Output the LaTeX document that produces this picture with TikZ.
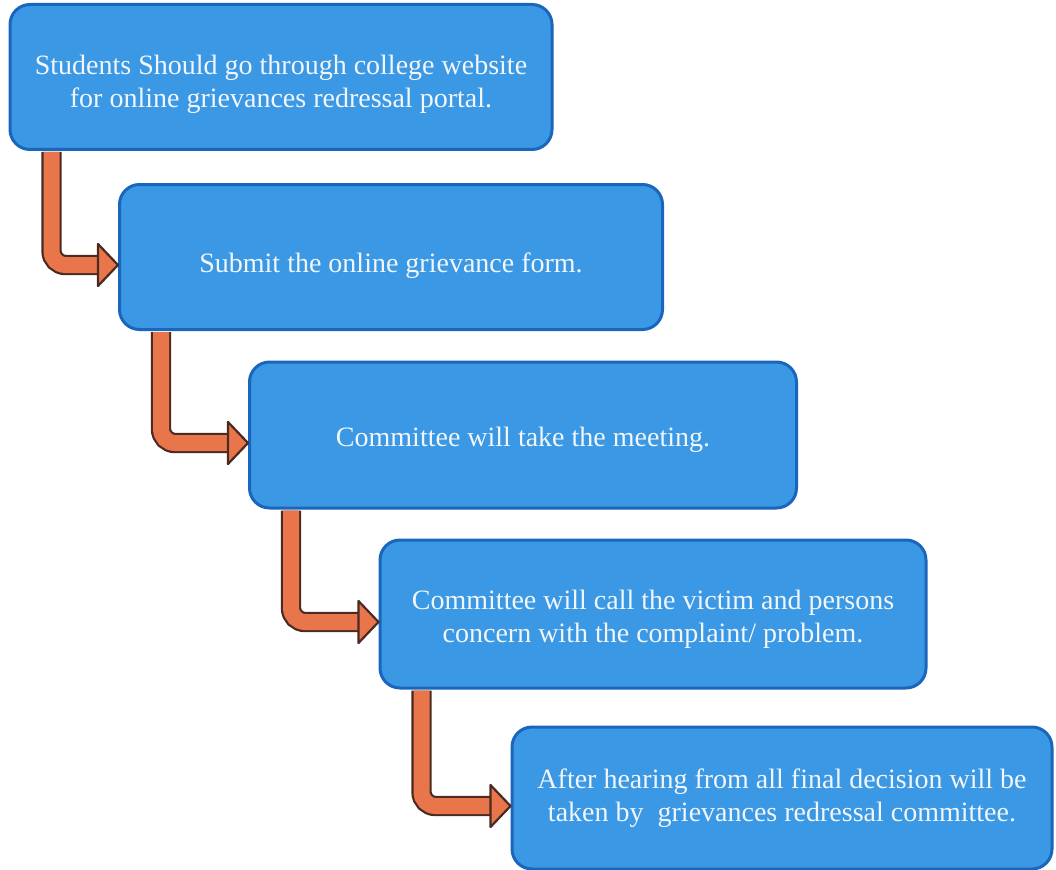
\documentclass[tikz,border=0pt]{standalone}
\usepackage{fontspec}
\setmainfont{Liberation Serif}
\definecolor{boxfill}{HTML}{3A98E4}
\definecolor{boxline}{HTML}{1A66BC}
\definecolor{boxtext}{HTML}{F2F6FA}
\definecolor{arroworange}{HTML}{E8764A}
\definecolor{arrowline}{HTML}{4A2A22}
\tikzset{
  stepbox/.style={draw=boxline, line width=3pt, fill=boxfill, rounded corners=20pt,
    text=boxtext, align=center, font=\fontsize{28}{33}\selectfont, inner sep=0pt},
  flow/.style={draw=arrowline, line width=2.2pt, double=arroworange, double distance=16pt,
    rounded corners=14pt},
  flowhead/.style={draw=arrowline, line width=2.2pt, fill=arroworange, line join=round},
}
\newcommand{\lowerby}[1]{\rule{0pt}{#1}}
\begin{document}
\begin{tikzpicture}[x=1pt,y=-1pt]
\useasboundingbox (0,0) rectangle (1056,869);
\node[stepbox, minimum width=542pt, minimum height=145pt] (n1) at (281,77)
  {\lowerby{34pt}Students Should go through college website\\for online grievances redressal portal.};
\node[stepbox, minimum width=543pt, minimum height=145pt] (n2) at (391,257)
  {\lowerby{38pt}Submit the online grievance form.};
\node[stepbox, minimum width=547pt, minimum height=146pt] (n3) at (523,435)
  {\lowerby{30pt}Committee will take the meeting.};
\node[stepbox, minimum width=546pt, minimum height=148pt] (n4) at (653,614)
  {\lowerby{30pt}Committee will call the victim and persons\\concern with the complaint/ problem.};
\node[stepbox, minimum width=540pt, minimum height=142pt] (n5) at (782,798)
  {After hearing from all final decision will be\\taken by\ \ grievances redressal committee.};
\foreach \a/\b in {n1/n2, n2/n3, n3/n4, n4/n5} {
  \draw[flow] ([xshift=43pt,yshift=-1pt]\a.south west) |- ([xshift=-19pt,yshift=-8pt]\b.west);
  \filldraw[flowhead] ([xshift=-20pt,yshift=13pt]\b.west) -- ([yshift=-8pt]\b.west)
    -- ([xshift=-20pt,yshift=-29pt]\b.west) -- cycle;
}
\end{tikzpicture}
\end{document}
